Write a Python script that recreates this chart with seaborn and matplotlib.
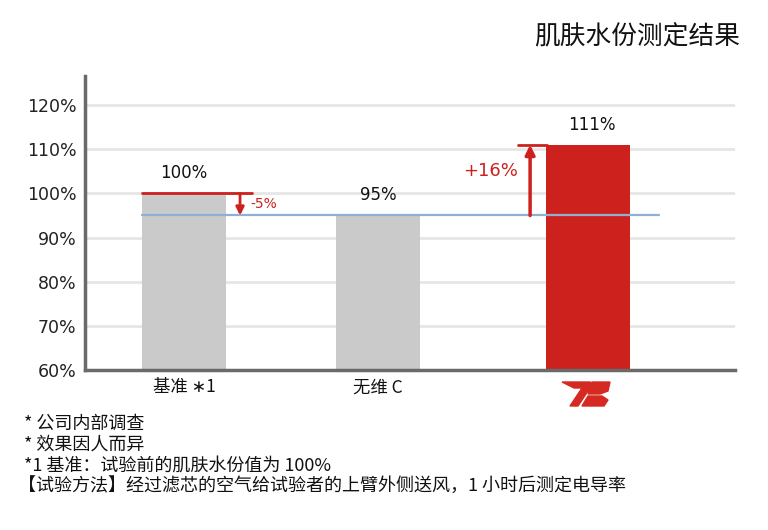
import matplotlib
matplotlib.use("Agg")
import matplotlib.pyplot as plt
import seaborn as sns
import pandas as pd
from matplotlib.patches import Polygon

categories = ["基准 ∗1", "无维 C", "logo"]
values = [100, 95, 111]
value_labels = ["100%", "95%", "111%"]
bar_colors = ["#cacaca", "#cacaca", "#cc211d"]
yticks = [60, 70, 80, 90, 100, 110, 120]
ytick_labels = ["60%", "70%", "80%", "90%", "100%", "110%", "120%"]
baseline = 95
down_label = "-5%"
up_label = "+16%"
title = "肌肤水份测定结果"
notes = ["* 公司内部调查", "* 效果因人而异", "*1 基准：试验前的肌肤水份值为 100%",
         "【试验方法】经过滤芯的空气给试验者的上臂外侧送风，1 小时后测定电导率"]

# layout positions of the bars (slightly uneven in the reference)
x_pos = [0.0, 1.0, 2.082]

sns.set_theme(style="white")
plt.rcParams['font.family'] = ['DejaVu Sans', 'Noto Sans CJK SC']

df = pd.DataFrame({"pos": x_pos, "val": values, "cat": categories})
fig = plt.figure(figsize=(7.68, 5.30), dpi=100)
ax = fig.add_axes([85/768, 1-370/530, 650/768, (370-76)/530])
sns.barplot(data=df, x="pos", y="val", hue="cat", palette=bar_colors, legend=False,
            native_scale=True, width=0.433, ax=ax, saturation=1, linewidth=0)
ax.set_ylim(60, 126.6)
ax.set_xlim(-0.510, 2.840)
ax.set_yticks(yticks)
ax.set_yticklabels(ytick_labels, fontsize=12.5, color="#222222")
ax.set_xticks(x_pos)
ax.set_xticklabels([categories[0], categories[1], ""], fontsize=12.5,
                   family=['Noto Sans CJK SC', 'DejaVu Sans'], color="#111111")
ax.set_xlabel("")
ax.set_ylabel("")
ax.tick_params(axis='both', length=0, pad=6)
ax.grid(axis='y', color="#e6e6e6", linewidth=2)
ax.set_axisbelow(True)
for s in ["top", "right"]:
    ax.spines[s].set_visible(False)
for s in ["left", "bottom"]:
    ax.spines[s].set_color("#6a6a6a")
    ax.spines[s].set_linewidth(2.5)

# value labels
for x, v, lab in zip(x_pos, values, value_labels):
    ax.text(x + (0.02 if v == values[2] else 0), v + 2.5, lab, ha="center", va="bottom",
            fontsize=12, color="#111111")

# baseline
ax.plot([-0.216, 2.448], [baseline, baseline], color="#8fb0d0", linewidth=1.6, zorder=3)
# red line at 100
ax.plot([-0.216, 0.35], [values[0], values[0]], color="#cc211d", linewidth=2, zorder=3)
ax.annotate("", xy=(0.289, baseline), xytext=(0.289, values[0]),
            arrowprops=dict(arrowstyle="-|>", color="#cc211d", lw=2, mutation_scale=12,
                            shrinkA=0, shrinkB=0), zorder=4)
ax.text(0.34, 97.6, down_label, color="#cc211d", fontsize=10, ha="left", va="center")
# red line at 111
ax.plot([1.72, 1.87], [values[2], values[2]], color="#cc211d", linewidth=2, zorder=3)
ax.annotate("", xy=(1.784, values[2]), xytext=(1.784, baseline),
            arrowprops=dict(arrowstyle="-|>", color="#cc211d", lw=2.5, mutation_scale=14,
                            shrinkA=0, shrinkB=0), zorder=4)
ax.text(1.72, 105, up_label, color="#cc211d", fontsize=13, ha="right", va="center")

fig.text(740/768, 1-37/530, title, ha="right", va="center", fontsize=18.5,
         family=['Noto Sans CJK SC', 'DejaVu Sans'], color="#111111")

ys = [424, 445, 466, 487]
for y, t in zip(ys, notes):
    fig.text(24/768 if not t.startswith("【") else 18/768, 1-y/530, t, ha="left", va="center",
             fontsize=13, family=['Noto Sans CJK SC', 'DejaVu Sans'], color="#111111")

# logo (decorative)
lax = fig.add_axes([560/768, 1-408/530, 54/768, 28/530])
lax.set_xlim(0, 54); lax.set_ylim(0, 28); lax.axis("off")
lax.add_patch(Polygon([[2, 26], [30, 26], [34, 20], [14, 20]], closed=True, color="#d42a22"))
lax.add_patch(Polygon([[22, 20], [30, 20], [18, 2], [10, 2]], closed=True, color="#d42a22"))
lax.add_patch(Polygon([[32, 26], [50, 26], [48, 17], [40, 14], [28, 14]], closed=True, color="#d42a22"))
lax.add_patch(Polygon([[28, 12], [42, 12], [48, 8], [44, 2], [22, 2]], closed=True, color="#d42a22"))

fig.savefig("out.png", dpi=100)
